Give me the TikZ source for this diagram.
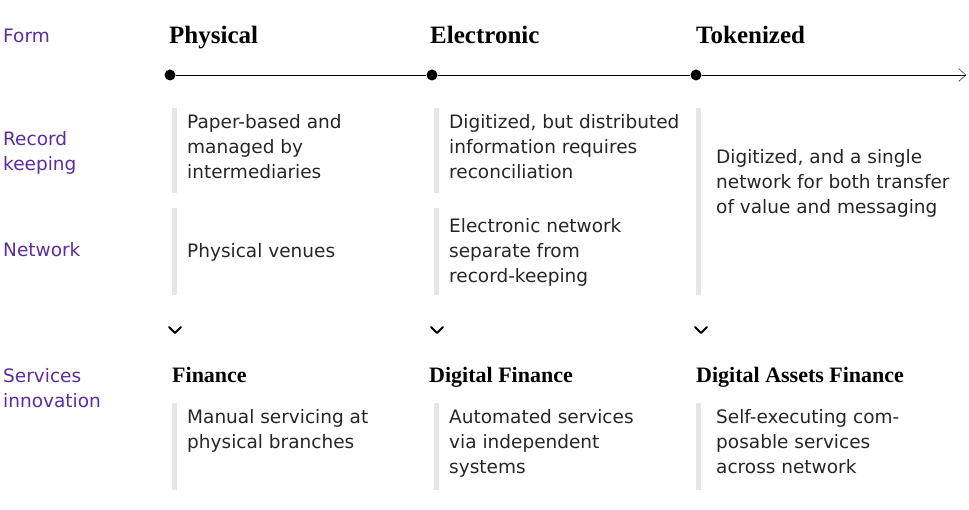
\documentclass[tikz,border=0pt]{standalone}
\usepackage{fontspec}
\setmainfont{Liberation Serif}
\newfontfamily\bodyf{DejaVu Sans}
\usetikzlibrary{arrows.meta}
\definecolor{purp}{HTML}{5B2D9E}
\definecolor{barg}{HTML}{E6E6E6}
\begin{document}
\begin{tikzpicture}[x=1pt,y=-1pt,
  lab/.style={anchor=north west,inner sep=0pt,font=\bodyf\fontsize{18.5}{25}\selectfont,text=purp,align=left},
  txt/.style={anchor=north west,inner sep=0pt,font=\bodyf\fontsize{18.5}{25}\selectfont,text=black!85,align=left},
  head/.style={anchor=base west,inner sep=0pt,font=\bfseries\fontsize{25}{28}\selectfont},
  sub/.style={anchor=base west,inner sep=0pt,font=\bfseries\fontsize{22}{26}\selectfont},
  bar/.style={barg,line width=5pt},
  dot/.style={circle,fill=black,inner sep=0pt,minimum size=11pt},
  chev/.style={line width=2pt,line cap=round,line join=round}]
\useasboundingbox (0,0) rectangle (969,510);
\node[lab,anchor=base west] (lform) at (3,43) {Form};
\node[lab] (lrec) at (3,131) {Record\\keeping};
\node[lab] (lnet) at (3,242) {Network};
\node[lab] (lsvc) at (3,368) {Services\\innovation};
\node[head] (h1) at (169,44) {Physical};
\node[head] (h2) at (430,44) {Electronic};
\node[head] (h3) at (696,44) {Tokenized};
\node[dot] (d1) at (170,75) {};
\node[dot] (d2) at (432,75) {};
\node[dot] (d3) at (696,75) {};
\coordinate (tend) at (966,75);
\draw (d1) -- (d2); \draw (d2) -- (d3);
\draw[-{Straight Barb[length=7pt,width=13pt]}] (d3) -- (tend);
\foreach \x in {174,436}{
  \draw[bar] (\x,108) -- (\x,193);
  \draw[bar] (\x,208) -- (\x,295);
  \draw[bar] (\x,403) -- (\x,490);}
\draw[bar] (698,108) -- (698,295);
\draw[bar] (698,403) -- (698,490);
\node[txt] (t1) at (187,114) {Paper-based and\\managed by\\intermediaries};
\node[txt] (t2) at (449,114) {Digitized, but distributed\\information requires\\reconciliation};
\node[txt] (t3) at (716,149) {Digitized, and a single\\network for both transfer\\of value and messaging};
\node[txt] (n1) at (187,243) {Physical venues};
\node[txt] (n2) at (449,218) {Electronic network\\separate from\\record-keeping};
\foreach \x in {175,437,701}
  \draw[chev] (\x-6,327) -- (\x,333) -- (\x+6,327);
\node[sub] (s1) at (172,382) {Finance};
\node[sub] (s2) at (429,382) {Digital Finance};
\node[sub] (s3) at (696,382) {Digital Assets Finance};
\node[txt] (f1) at (187,409) {Manual servicing at\\physical branches};
\node[txt] (f2) at (449,409) {Automated services\\via independent\\systems};
\node[txt] (f3) at (716,409) {Self-executing com-\\posable services\\across network};
\end{tikzpicture}
\end{document}
